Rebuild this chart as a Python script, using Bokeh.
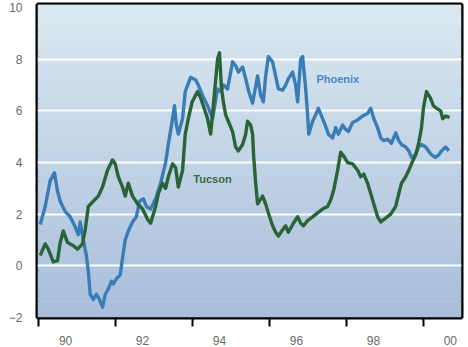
from bokeh.plotting import figure
from bokeh.models import FixedTicker, CustomJSTickFormatter, Range1d
from bokeh.core.properties import value
from bokeh.embed import file_html
from bokeh.resources import INLINE

# Monthly-ish readings, decimal year
phoenix_year = [1990.04, 1990.17, 1990.30, 1990.41, 1990.49, 1990.56, 1990.69, 1990.82, 1990.95,
                1991.03, 1991.08, 1991.16, 1991.24, 1991.29, 1991.34, 1991.42, 1991.50, 1991.58,
                1991.66, 1991.73, 1991.81, 1991.89, 1991.94, 1992.02, 1992.12, 1992.18, 1992.25,
                1992.33, 1992.44, 1992.54, 1992.62, 1992.72, 1992.80, 1992.91, 1993.04, 1993.17,
                1993.30, 1993.37, 1993.48, 1993.53, 1993.58, 1993.63, 1993.74, 1993.81, 1993.95,
                1994.08, 1994.15, 1994.26, 1994.39, 1994.52, 1994.65, 1994.73, 1994.81, 1994.91,
                1995.04, 1995.12, 1995.19, 1995.30, 1995.38, 1995.46, 1995.56, 1995.69, 1995.77,
                1995.84, 1995.90, 1995.97, 1996.08, 1996.16, 1996.23, 1996.34, 1996.42, 1996.49,
                1996.60, 1996.68, 1996.73, 1996.81, 1996.86, 1996.94, 1996.99, 1997.02, 1997.12,
                1997.20, 1997.27, 1997.38, 1997.46, 1997.53, 1997.64, 1997.72, 1997.79, 1997.90,
                1997.97, 1998.05, 1998.16, 1998.29, 1998.42, 1998.55, 1998.63, 1998.71, 1998.81,
                1998.89, 1998.97, 1999.07, 1999.17, 1999.28, 1999.36, 1999.43, 1999.54, 1999.62,
                1999.69, 1999.80, 1999.87, 1999.95, 2000.06, 2000.13, 2000.21, 2000.31, 2000.40,
                2000.47, 2000.58, 2000.66]
phoenix_val = [1.6, 2.3, 3.3, 3.6, 2.9, 2.5, 2.1, 1.9, 1.5,
               1.2, 1.7, 1.0, 0.4, -0.2, -1.1, -1.3, -1.1, -1.3,
               -1.6, -1.1, -0.9, -0.6, -0.7, -0.5, -0.35, 0.3, 1.0,
               1.35, 1.7, 1.9, 2.5, 2.6, 2.3, 2.2, 2.6, 3.2,
               4.0, 4.7, 5.7, 6.2, 5.45, 5.1, 5.7, 6.75, 7.3,
               7.2, 7.0, 6.6, 6.2, 5.7, 6.85, 6.75, 7.0, 6.85,
               7.9, 7.75, 7.5, 7.7, 7.25, 6.75, 6.3, 7.35, 6.6,
               6.35, 7.35, 8.1, 7.9, 7.35, 6.85, 6.8, 7.0, 7.25,
               7.5, 7.0, 6.35, 8.0, 8.1, 6.85, 5.85, 5.1, 5.6,
               5.85, 6.1, 5.7, 5.4, 5.1, 4.95, 5.35, 5.1, 5.45,
               5.3, 5.2, 5.55, 5.65, 5.8, 5.9, 6.1, 5.7, 5.35,
               4.95, 4.85, 4.9, 4.75, 5.15, 4.85, 4.7, 4.6, 4.45,
               4.2, 4.3, 4.6, 4.7, 4.6, 4.45, 4.3, 4.2, 4.3,
               4.45, 4.6, 4.45]

tucson_year = [1990.04, 1990.17, 1990.25, 1990.38, 1990.49, 1990.56, 1990.64, 1990.75, 1990.88,
               1991.01, 1991.14, 1991.21, 1991.29, 1991.42, 1991.55, 1991.66, 1991.79, 1991.92,
               1991.99, 1992.07, 1992.18, 1992.25, 1992.33, 1992.44, 1992.57, 1992.70, 1992.83,
               1992.91, 1993.04, 1993.11, 1993.22, 1993.30, 1993.37, 1993.48, 1993.56, 1993.63,
               1993.74, 1993.81, 1993.89, 1993.99, 1994.13, 1994.21, 1994.28, 1994.39, 1994.47,
               1994.54, 1994.65, 1994.70, 1994.75, 1994.80, 1994.86, 1994.93, 1995.04, 1995.12,
               1995.19, 1995.30, 1995.38, 1995.43, 1995.51, 1995.56, 1995.59, 1995.64, 1995.69,
               1995.82, 1995.90, 1995.97, 1996.08, 1996.16, 1996.23, 1996.34, 1996.42, 1996.49,
               1996.62, 1996.73, 1996.81, 1996.88, 1996.99, 1997.12, 1997.25, 1997.38, 1997.51,
               1997.59, 1997.67, 1997.77, 1997.85, 1997.93, 1998.03, 1998.16, 1998.29, 1998.37,
               1998.45, 1998.55, 1998.63, 1998.71, 1998.81, 1998.89, 1999.02, 1999.15, 1999.28,
               1999.36, 1999.43, 1999.54, 1999.62, 1999.69, 1999.80, 1999.87, 1999.95, 2000.00,
               2000.08, 2000.18, 2000.26, 2000.34, 2000.45, 2000.50, 2000.58, 2000.68]
tucson_val = [0.4, 0.85, 0.65, 0.15, 0.2, 0.9, 1.35, 0.9, 0.8,
              0.65, 0.85, 1.4, 2.3, 2.5, 2.7, 3.05, 3.7, 4.1,
              3.95, 3.45, 3.05, 2.7, 3.2, 2.7, 2.4, 2.2, 1.8,
              1.65, 2.3, 2.8, 3.2, 3.0, 3.45, 3.95, 3.8, 3.05,
              3.7, 5.1, 5.7, 6.35, 6.75, 6.5, 6.2, 5.7, 5.1,
              6.2, 8.0, 8.25, 6.9, 6.35, 5.85, 5.6, 5.2, 4.6,
              4.45, 4.7, 5.1, 5.6, 5.45, 5.1, 4.2, 3.2, 2.4,
              2.7, 2.4, 2.05, 1.55, 1.3, 1.15, 1.4, 1.55, 1.3,
              1.65, 1.9, 1.65, 1.55, 1.75, 1.9, 2.05, 2.2, 2.3,
              2.55, 2.95, 3.7, 4.4, 4.25, 4.0, 3.95, 3.7, 3.45,
              3.55, 3.2, 2.8, 2.4, 1.9, 1.7, 1.85, 2.0, 2.3,
              2.8, 3.2, 3.45, 3.7, 3.95, 4.3, 4.7, 5.35, 6.1,
              6.75, 6.5, 6.2, 6.1, 6.0, 5.7, 5.8, 5.75]

year_ticks = [1990, 1992, 1994, 1996, 1998, 2000]
value_ticks = [-2, 0, 2, 4, 6, 8, 10]
grid_values = [0, 2, 4, 6, 8]

X0, X1 = 1989.97, 2000.99
Y0, Y1 = -2.0, 10.12

FONT = "Liberation Sans"

p = figure(width=468, height=347, output_backend="svg", toolbar_location=None,
           x_range=Range1d(X0, X1), y_range=Range1d(Y0, Y1),
           min_border_left=37, min_border_right=7, min_border_top=4, min_border_bottom=24)
p.background_fill_color = "#c4d6e8"
p.border_fill_color = "white"
p.outline_line_color = "black"
p.outline_line_width = 4

# vertical colour wash behind the data: pale at the top, deeper blue at the bottom
n_bands = 60
top_rgb = (0xda, 0xe8, 0xf1)
bot_rgb = (0xa8, 0xbe, 0xda)
b_bottom, b_top, b_color = [], [], []
for i in range(n_bands):
    t = i / (n_bands - 1)
    lo = Y0 + (Y1 - Y0) * i / n_bands
    hi = Y0 + (Y1 - Y0) * (i + 1) / n_bands
    r = round(bot_rgb[0] + (top_rgb[0] - bot_rgb[0]) * t)
    g = round(bot_rgb[1] + (top_rgb[1] - bot_rgb[1]) * t)
    b = round(bot_rgb[2] + (top_rgb[2] - bot_rgb[2]) * t)
    b_bottom.append(lo)
    b_top.append(hi + 0.01)
    b_color.append("#%02x%02x%02x" % (r, g, b))
wash = p.quad(left=X0, right=X1, bottom=b_bottom, top=b_top, fill_color=b_color, line_color=None)
wash.level = "image"

# grid
p.xgrid.visible = False
p.ygrid.ticker = FixedTicker(ticks=grid_values)
p.ygrid.grid_line_color = "white"
p.ygrid.grid_line_width = 2
p.ygrid.grid_line_alpha = 0.95

# series
p.line(phoenix_year, phoenix_val, line_color="#3a7db6", line_width=3.4, line_join="round")
p.line(tucson_year, tucson_val, line_color="#2a6336", line_width=3.4, line_join="round")

label_font = value(FONT)
p.text(x=[1997.22], y=[7.24], text=["Phoenix"], text_font=label_font, text_font_size="11px",
       text_font_style="bold", text_color="#4a88c2", text_baseline="middle", text_align="left")
p.text(x=[1994.02], y=[3.37], text=["Tucson"], text_font=label_font, text_font_size="11px",
       text_font_style="bold", text_color="#3b6a47", text_baseline="middle", text_align="left")

# y axis: labels only
yax = p.yaxis[0]
yax.ticker = FixedTicker(ticks=value_ticks)
yax.axis_line_color = None
yax.major_tick_line_color = None
yax.minor_tick_line_color = None
yax.major_label_standoff = 9
yax.major_label_text_font = FONT
yax.major_label_text_font_size = "12px"
yax.major_label_text_color = "#6a6a6a"

# x axis: tick marks at the start of each even year, labels set inside the interval
xax = p.xaxis[0]
xax.ticker = FixedTicker(ticks=[y + 0.7 for y in year_ticks], minor_ticks=year_ticks)
xax.formatter = CustomJSTickFormatter(code="return String(Math.floor(tick) % 100).padStart(2, '0');")
xax.axis_line_color = None
xax.major_tick_line_color = None
xax.minor_tick_line_color = "black"
xax.minor_tick_line_width = 2
xax.minor_tick_in = 0
xax.minor_tick_out = 9
xax.major_label_standoff = 9
xax.major_label_text_font = FONT
xax.major_label_text_font_size = "12px"
xax.major_label_text_color = "#6a6a6a"

open("out.html", "w").write(file_html(p, INLINE))
